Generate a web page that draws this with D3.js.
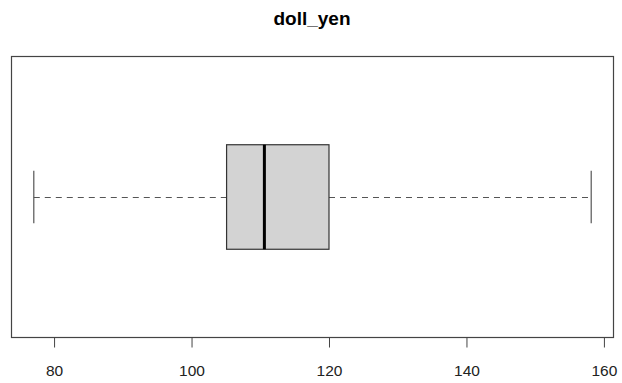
<!DOCTYPE html>
<html>
<head>
<meta charset="utf-8">
<script src="https://cdn.jsdelivr.net/npm/d3@7"></script>
<style>
  html, body { margin: 0; padding: 0; background: #fff; }
  svg { display: block; }
  text { font-family: "Liberation Sans", Arial, Helvetica, sans-serif; }
</style>
</head>
<body>
<svg id="chart" width="622" height="383"></svg>
<script>
// Five-number summary of the dollar/yen series
const seriesName = "doll_yen";
const statNames = ["min", "q1", "median", "q3", "max"];
const statValues = [77.05, 105.1, 110.6, 120.0, 158.15];
const tickValues = [80, 100, 120, 140, 160];

const stats = Object.fromEntries(statNames.map((k, i) => [k, statValues[i]]));

const plot = { left: 11.5, right: 613.5, top: 56.5, bottom: 337.5 };

const svg = d3.select("#chart");

// Horizontal value axis, padded 4% on each side of the data range
const span = stats.max - stats.min;
const x = d3.scaleLinear()
  .domain([stats.min - 0.04 * span, stats.max + 0.04 * span])
  .range([plot.left, plot.right]);

// Vertical position for the single box (group at 1, frame spans 0.5..1.5)
const y = d3.scaleLinear().domain([0.5, 1.5]).range([plot.top, plot.bottom]);
const boxHalf = 0.186;
const capHalf = boxHalf / 2;

// Title
svg.append("text")
  .attr("x", 312).attr("y", 25)
  .attr("text-anchor", "middle")
  .attr("font-size", 19)
  .attr("font-weight", "bold")
  .attr("fill", "#000")
  .text(seriesName);

// Whiskers (dashed) and end caps
const g = svg.append("g");
const yMid = Math.round(y(1)) + 0.5;
g.append("line")
  .attr("x1", x(stats.min)).attr("x2", x(stats.q1))
  .attr("y1", yMid).attr("y2", yMid)
  .attr("stroke", "#555").attr("stroke-dasharray", "6,5");
g.append("line")
  .attr("x1", x(stats.q3)).attr("x2", x(stats.max))
  .attr("y1", yMid).attr("y2", yMid)
  .attr("stroke", "#555").attr("stroke-dasharray", "6,5");
[stats.min, stats.max].forEach(v => {
  g.append("line")
    .attr("x1", x(v)).attr("x2", x(v))
    .attr("y1", y(1 - capHalf)).attr("y2", y(1 + capHalf))
    .attr("stroke", "#555").attr("stroke-width", 1.2);
});

// Box from Q1 to Q3
g.append("rect")
  .attr("x", x(stats.q1)).attr("y", y(1 - boxHalf))
  .attr("width", x(stats.q3) - x(stats.q1))
  .attr("height", y(1 + boxHalf) - y(1 - boxHalf))
  .attr("fill", "#d3d3d3")
  .attr("stroke", "#333").attr("stroke-width", 1.2);

// Median
g.append("line")
  .attr("x1", x(stats.median)).attr("x2", x(stats.median))
  .attr("y1", y(1 - boxHalf)).attr("y2", y(1 + boxHalf))
  .attr("stroke", "#000").attr("stroke-width", 3);

// Plot frame
svg.append("rect")
  .attr("x", plot.left).attr("y", plot.top)
  .attr("width", plot.right - plot.left)
  .attr("height", plot.bottom - plot.top)
  .attr("fill", "none")
  .attr("stroke", "#444").attr("stroke-width", 1.2);

// Bottom axis
const axis = d3.axisBottom(x).tickValues(tickValues).tickSize(10).tickPadding(17);
const ax = svg.append("g")
  .attr("transform", `translate(0,${plot.bottom})`)
  .call(axis);
ax.select(".domain")
  .attr("d", `M${x(tickValues[0])},0H${x(tickValues[tickValues.length - 1])}`)
  .attr("stroke", "#444");
ax.selectAll(".tick line").attr("stroke", "#444");
ax.selectAll(".tick text")
  .attr("font-size", 15.5)
  .attr("font-family", "'Liberation Sans', Arial, sans-serif")
  .attr("fill", "#222");
</script>
</body>
</html>
